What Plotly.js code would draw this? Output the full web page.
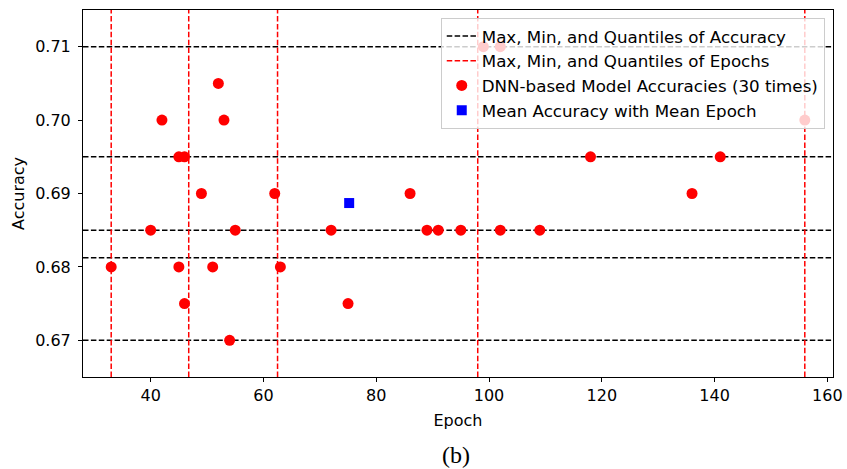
<!DOCTYPE html>
<html>
<head>
<meta charset="utf-8">
<script src="https://cdn.plot.ly/plotly-3.0.1.min.js"></script>
<style>html,body{margin:0;padding:0;background:#fff;}#chart{width:847px;height:469px;}</style>
</head>
<body>
<div id="chart"></div>
<script>
// ---- data ----
const epochs = [33, 40, 42, 45, 46, 45, 46, 49, 51, 52, 53, 54, 55, 62, 63, 72, 75, 86, 89, 91, 95, 99, 102, 102, 109, 118, 136, 141, 156];
const accuracies = [0.68, 0.685, 0.70, 0.695, 0.695, 0.68, 0.675, 0.69, 0.68, 0.705, 0.70, 0.67, 0.685, 0.69, 0.68, 0.685, 0.675, 0.69, 0.685, 0.685, 0.685, 0.71, 0.71, 0.685, 0.685, 0.695, 0.69, 0.695, 0.70];
const accuracyLevels = [0.67, 0.68125, 0.685, 0.695, 0.71];   // min, Q1, median, Q3, max
const epochLevels = [33, 46.75, 62.5, 98, 156];               // min, Q1, median, Q3, max
const meanEpoch = [75.2];
const meanAccuracy = [0.6887];
const xRange = [28, 161];
const yRange = [0.665, 0.715];
const xTicks = [40, 60, 80, 100, 120, 140, 160];
const yTicks = [0.67, 0.68, 0.69, 0.70, 0.71];
const yTickText = ['0.67', '0.68', '0.69', '0.70', '0.71'];

// ---- build traces ----
const hx = [], hy = [];
accuracyLevels.forEach(v => { hx.push(xRange[0], xRange[1], null); hy.push(v, v, null); });
const vx = [], vy = [];
epochLevels.forEach(v => { vx.push(v, v, null); vy.push(yRange[0], yRange[1], null); });

const font = 'DejaVu Sans, sans-serif';
const traces = [
  {x: hx, y: hy, mode: 'lines', name: 'Max, Min, and Quantiles of Accuracy',
   line: {color: 'black', width: 1.5, dash: '5.5px,2.4px'}, hoverinfo: 'skip'},
  {x: vx, y: vy, mode: 'lines', name: 'Max, Min, and Quantiles of Epochs',
   line: {color: 'red', width: 1.5, dash: '5.5px,2.4px'}, hoverinfo: 'skip'},
  {x: epochs, y: accuracies, mode: 'markers', name: 'DNN-based Model Accuracies (30 times)',
   marker: {color: 'red', size: 11, symbol: 'circle', line: {width: 0}}},
  {x: meanEpoch, y: meanAccuracy, mode: 'markers', name: 'Mean Accuracy with Mean Epoch',
   marker: {color: 'blue', size: 10, symbol: 'square', line: {width: 0}}}
];

const layout = {
  width: 847, height: 469,
  margin: {l: 83, r: 14, t: 10, b: 92},
  paper_bgcolor: 'white', plot_bgcolor: 'white',
  font: {family: font, size: 16, color: 'black'},
  showlegend: true,
  legend: {x: 0.989, y: 0.979, xanchor: 'right', yanchor: 'top',
           bgcolor: 'rgba(255,255,255,0.8)', bordercolor: '#cccccc', borderwidth: 1,
           font: {family: font, size: 16.7, color: 'black'}},
  xaxis: {range: xRange, tickvals: xTicks, ticks: 'outside', ticklen: 4, tickcolor: 'black',
          showline: true, linecolor: 'black', linewidth: 1, mirror: true,
          showgrid: false, zeroline: false,
          tickfont: {family: font, size: 16},
          title: {text: 'Epoch', font: {family: font, size: 16}, standoff: 10}},
  yaxis: {range: yRange, tickvals: yTicks, ticktext: yTickText, ticks: 'outside', ticklen: 4, tickcolor: 'black',
          showline: true, linecolor: 'black', linewidth: 1, mirror: true,
          showgrid: false, zeroline: false, ticklabelstandoff: 4,
          tickfont: {family: font, size: 16},
          title: {text: 'Accuracy', font: {family: font, size: 16}, standoff: 6}},
  annotations: [
    {text: '(b)', xref: 'paper', yref: 'paper', x: 0.4975, y: -0.213, xanchor: 'center', yanchor: 'middle',
     showarrow: false, font: {family: 'Liberation Serif, serif', size: 24, color: 'black'}}
  ]
};

Plotly.newPlot('chart', traces, layout, {displayModeBar: false, staticPlot: true});
</script>
</body>
</html>
